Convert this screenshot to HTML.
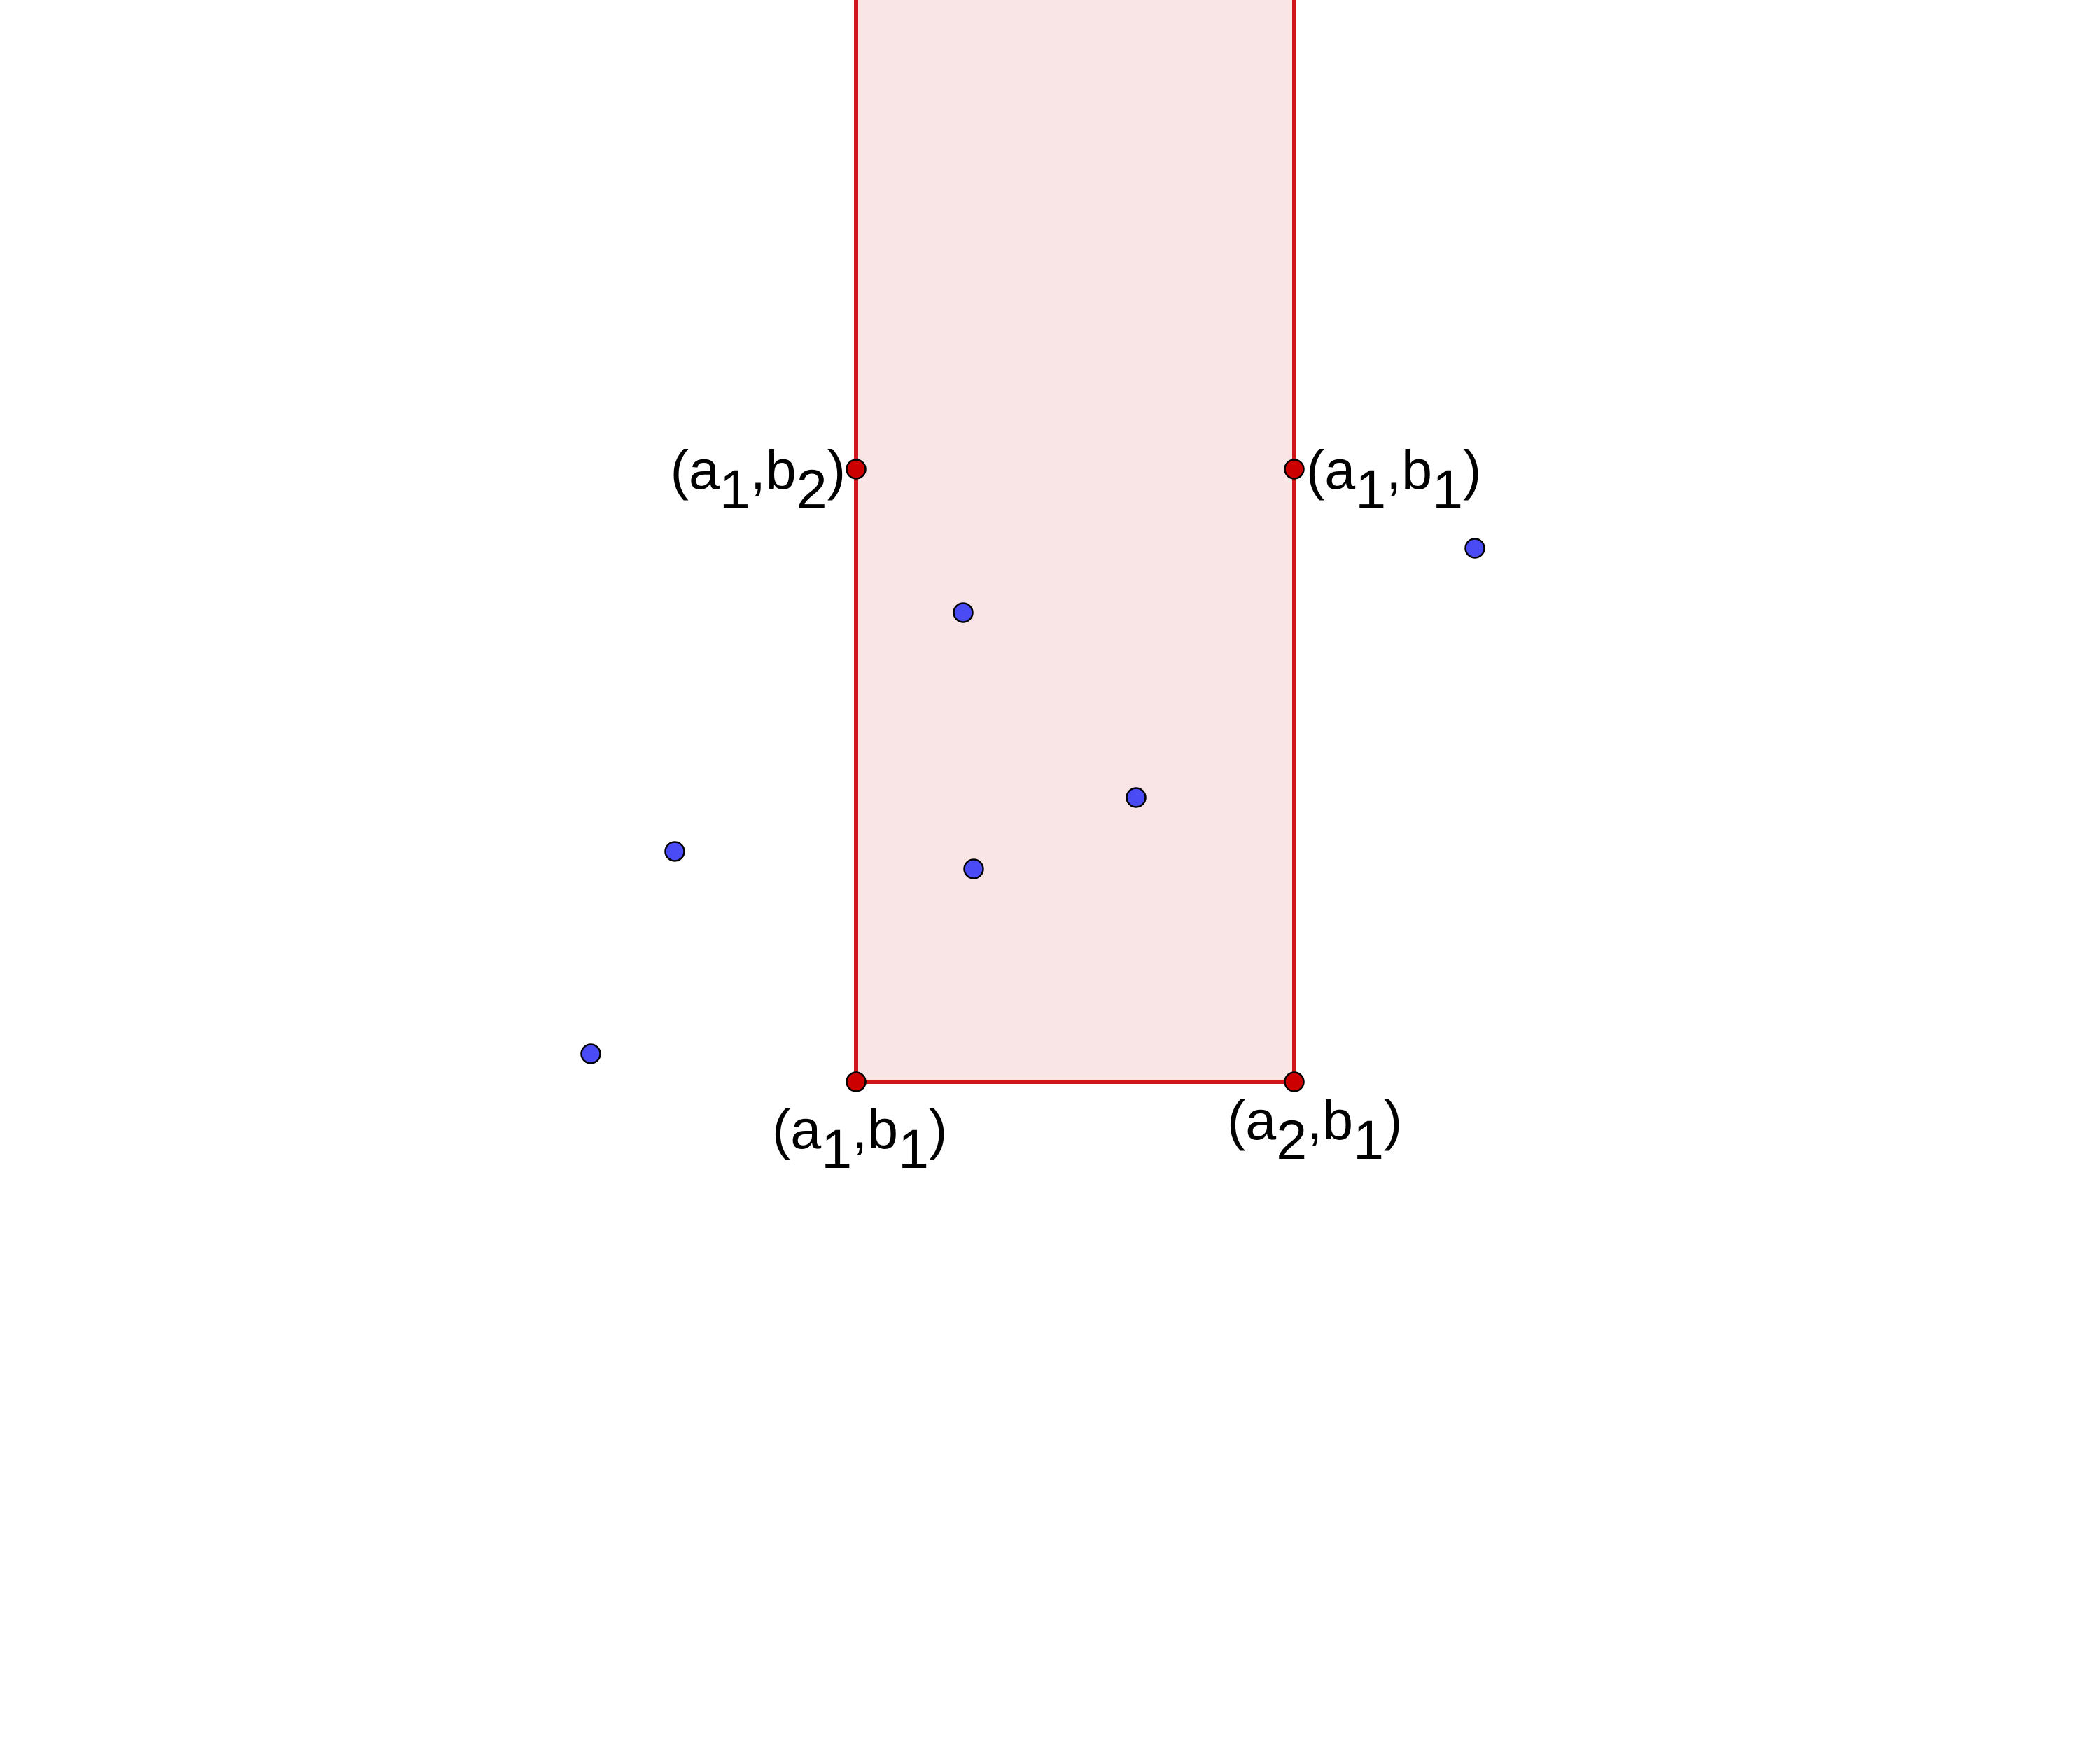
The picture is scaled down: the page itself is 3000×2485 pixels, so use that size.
<!DOCTYPE html>
<html><head><meta charset="utf-8"><style>html,body{margin:0;padding:0;background:#fff}svg{display:block}</style></head>
<body>
<svg width="3000" height="2485" viewBox="0 0 3000 2485" xmlns="http://www.w3.org/2000/svg" font-family="Liberation Sans, sans-serif" font-size="79">
<g id="g"></g>
</svg>
<script>
const rectX = [1223, 1849];
const rectY = [670, 1545];
const blueX = [1376, 2107, 1623, 964, 1391, 844];
const blueY = [875, 783, 1139, 1216, 1241, 1505];
const labelText = [["(a","1",",b","2",")"],["(a","1",",b","1",")"],["(a","1",",b","1",")"],["(a","2",",b","1",")"]];
const labelPos = [[1208,698,"end"],[1866,698,"start"],[1103,1640,"start"],[1753,1627,"start"]];
const NS="http://www.w3.org/2000/svg";
const g=document.getElementById('g');
function mk(t,a){const e=document.createElementNS(NS,t);for(const k in a)e.setAttribute(k,a[k]);g.appendChild(e);return e;}
const fill=mk('path',{d:`M${rectX[0]},0 L${rectX[0]},${rectY[1]} L${rectX[1]},${rectY[1]} L${rectX[1]},0 Z`,fill:'#f9e5e6',stroke:'none'});


const edge=mk('path',{d:`M${rectX[0]},0 L${rectX[0]},${rectY[1]} L${rectX[1]},${rectY[1]} L${rectX[1]},0`,fill:'none',stroke:'#d0161a','stroke-width':6});


for(let i=0;i<blueX.length;i++){
 const c=mk('circle',{cx:blueX[i],cy:blueY[i],r:13.5,fill:'#4b4bf5',stroke:'#000','stroke-width':2.5});
 
 
}
const corners=[[0,0],[1,0],[0,1],[1,1]];
corners.forEach(([i,j])=>{
 const c=mk('circle',{cx:rectX[i],cy:rectY[j],r:13.5,fill:'#cc0000',stroke:'#000','stroke-width':2.5});
 
 
});
labelText.forEach((parts,k)=>{
 const [x,y,anc]=labelPos[k];
 const t=mk('text',{x:x,y:y,'text-anchor':anc,fill:'#000'});
 
 
 parts.forEach((p,i)=>{
  const s=document.createElementNS(NS,'tspan');
  const sub=i%2===1;
  s.setAttribute('dy', i===0?0:(sub?28:-28));
  s.textContent=p;t.appendChild(s);
 });
});
</script>
</body></html>
